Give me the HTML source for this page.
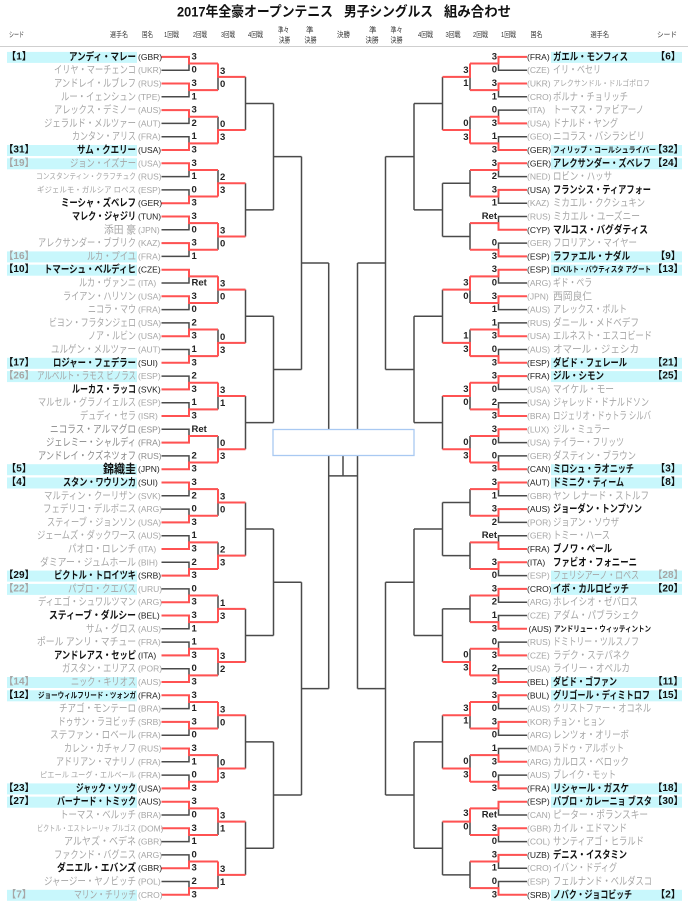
<!DOCTYPE html>
<html><head><meta charset="utf-8"><style>
body{margin:0;background:#fff}
svg{display:block}
text{dominant-baseline:central;font-family:"Liberation Sans","Noto Sans CJK JP",sans-serif}
.n{font-size:10.5px}
.sm{font-size:8px}
.w{fill:#111;font-weight:bold}
.g{fill:#a6a6a6}
.c{font-size:8.5px}
.cw{fill:#222}
.s{font-size:9.5px;font-weight:bold;fill:#222}
.sd{font-size:10px;font-weight:bold}
.h{font-size:7.5px;fill:#333}
.t{font-size:14px;font-weight:bold;fill:#111}
</style></head><body>
<svg width="688" height="914" viewBox="0 0 688 914" xmlns="http://www.w3.org/2000/svg">
<rect width="688" height="914" fill="#fff"/>
<!-- title -->
<text class="t" x="177" y="11.5" textLength="156" lengthAdjust="spacingAndGlyphs">2017年全豪オープンテニス</text>
<text class="t" x="344" y="11.5" textLength="89" lengthAdjust="spacingAndGlyphs">男子シングルス</text>
<text class="t" x="444" y="11.5" textLength="67" lengthAdjust="spacingAndGlyphs">組み合わせ</text>
<!-- header -->
<g class="h">
<text class="h" x="9" y="34.5" textLength="15" lengthAdjust="spacingAndGlyphs">シード</text>
<text class="h" x="110" y="34.5" textLength="18" lengthAdjust="spacingAndGlyphs">選手名</text>
<text class="h" x="142" y="34.5" textLength="11" lengthAdjust="spacingAndGlyphs">国名</text>
<text class="h" x="164" y="34.5" textLength="15" lengthAdjust="spacingAndGlyphs">1回戦</text>
<text class="h" x="193" y="34.5" textLength="14" lengthAdjust="spacingAndGlyphs">2回戦</text>
<text class="h" x="221" y="34.5" textLength="14" lengthAdjust="spacingAndGlyphs">3回戦</text>
<text class="h" x="248" y="34.5" textLength="15" lengthAdjust="spacingAndGlyphs">4回戦</text>
<text class="h" x="278" y="30" textLength="11" lengthAdjust="spacingAndGlyphs">準々</text>
<text class="h" x="279" y="40" textLength="11" lengthAdjust="spacingAndGlyphs">決勝</text>
<text class="h" x="306" y="30">準</text>
<text class="h" x="304.5" y="40" textLength="12" lengthAdjust="spacingAndGlyphs">決勝</text>
<text class="h" x="337" y="34.5" textLength="13" lengthAdjust="spacingAndGlyphs">決勝</text>
<text class="h" x="369" y="30">準</text>
<text class="h" x="365.5" y="40" textLength="13" lengthAdjust="spacingAndGlyphs">決勝</text>
<text class="h" x="390.5" y="30" textLength="12" lengthAdjust="spacingAndGlyphs">準々</text>
<text class="h" x="390.5" y="40" textLength="12" lengthAdjust="spacingAndGlyphs">決勝</text>
<text class="h" x="418" y="34.5" textLength="15" lengthAdjust="spacingAndGlyphs">4回戦</text>
<text class="h" x="445.5" y="34.5" textLength="15" lengthAdjust="spacingAndGlyphs">3回戦</text>
<text class="h" x="473" y="34.5" textLength="15" lengthAdjust="spacingAndGlyphs">2回戦</text>
<text class="h" x="501" y="34.5" textLength="15" lengthAdjust="spacingAndGlyphs">1回戦</text>
<text class="h" x="530.5" y="34.5" textLength="12" lengthAdjust="spacingAndGlyphs">国名</text>
<text class="h" x="590.5" y="34.5" textLength="18.5" lengthAdjust="spacingAndGlyphs">選手名</text>
<text class="h" x="657" y="34.5" textLength="20" lengthAdjust="spacingAndGlyphs">シード</text>
</g>
<line x1="0" y1="46.5" x2="688" y2="46.5" stroke="#cfcfcf" stroke-width="1"/>

<!-- seed bands -->
<g fill="#c8f7fc">
<rect x="7" y="51.9" width="130" height="11"/><rect x="7" y="145" width="130" height="11"/><rect x="7" y="158.3" width="130" height="11"/><rect x="7" y="251.4" width="130" height="11"/><rect x="7" y="264.7" width="130" height="11"/><rect x="7" y="357.8" width="130" height="11"/><rect x="7" y="371.1" width="130" height="11"/><rect x="7" y="464.2" width="130" height="11"/><rect x="7" y="477.5" width="130" height="11"/><rect x="7" y="570.6" width="130" height="11"/><rect x="7" y="583.9" width="130" height="11"/><rect x="7" y="677" width="130" height="11"/><rect x="7" y="690.3" width="130" height="11"/><rect x="7" y="783.4" width="130" height="11"/><rect x="7" y="796.7" width="130" height="11"/><rect x="7" y="889.8" width="130" height="11"/>
<rect x="551" y="51.9" width="131" height="11"/><rect x="551" y="145" width="131" height="11"/><rect x="551" y="158.3" width="131" height="11"/><rect x="551" y="251.4" width="131" height="11"/><rect x="551" y="264.7" width="131" height="11"/><rect x="551" y="357.8" width="131" height="11"/><rect x="551" y="371.1" width="131" height="11"/><rect x="551" y="464.2" width="131" height="11"/><rect x="551" y="477.5" width="131" height="11"/><rect x="551" y="570.6" width="131" height="11"/><rect x="551" y="583.9" width="131" height="11"/><rect x="551" y="677" width="131" height="11"/><rect x="551" y="690.3" width="131" height="11"/><rect x="551" y="783.4" width="131" height="11"/><rect x="551" y="796.7" width="131" height="11"/><rect x="551" y="889.8" width="131" height="11"/>
</g>

<!-- black bracket lines -->
<path fill="none" stroke="#4a4a4a" stroke-width="1.5" d="
M161.5 56.9H189V70.2H161.5M189 63.55H218
M161.5 83.5H189V96.8H161.5M189 90.15H218
M161.5 110.1H189V123.4H161.5M189 116.75H218
M161.5 136.7H189V150H161.5M189 143.35H218
M161.5 163.3H189V176.6H161.5M189 169.95H218
M161.5 189.9H189V203.2H161.5M189 196.55H218
M161.5 216.5H189V229.8H161.5M189 223.15H218
M161.5 243.1H189V256.4H161.5M189 249.75H218
M161.5 269.7H189V283H161.5M189 276.35H218
M161.5 296.3H189V309.6H161.5M189 302.95H218
M161.5 322.9H189V336.2H161.5M189 329.55H218
M161.5 349.5H189V362.8H161.5M189 356.15H218
M161.5 376.1H189V389.4H161.5M189 382.75H218
M161.5 402.7H189V416H161.5M189 409.35H218
M161.5 429.3H189V442.6H161.5M189 435.95H218
M161.5 455.9H189V469.2H161.5M189 462.55H218
M161.5 482.5H189V495.8H161.5M189 489.15H218
M161.5 509.1H189V522.4H161.5M189 515.75H218
M161.5 535.7H189V549H161.5M189 542.35H218
M161.5 562.3H189V575.6H161.5M189 568.95H218
M161.5 588.9H189V602.2H161.5M189 595.55H218
M161.5 615.5H189V628.8H161.5M189 622.15H218
M161.5 642.1H189V655.4H161.5M189 648.75H218
M161.5 668.7H189V682H161.5M189 675.35H218
M161.5 695.3H189V708.6H161.5M189 701.95H218
M161.5 721.9H189V735.2H161.5M189 728.55H218
M161.5 748.5H189V761.8H161.5M189 755.15H218
M161.5 775.1H189V788.4H161.5M189 781.75H218
M161.5 801.7H189V815H161.5M189 808.35H218
M161.5 828.3H189V841.6H161.5M189 834.95H218
M161.5 854.9H189V868.2H161.5M189 861.55H218
M161.5 881.5H189V894.8H161.5M189 888.15H218
M218 63.55V90.15M218 76.85H245.5
M218 116.75V143.35M218 130.05H245.5
M218 169.95V196.55M218 183.25H245.5
M218 223.15V249.75M218 236.45H245.5
M218 276.35V302.95M218 289.65H245.5
M218 329.55V356.15M218 342.85H245.5
M218 382.75V409.35M218 396.05H245.5
M218 435.95V462.55M218 449.25H245.5
M218 489.15V515.75M218 502.45H245.5
M218 542.35V568.95M218 555.65H245.5
M218 595.55V622.15M218 608.85H245.5
M218 648.75V675.35M218 662.05H245.5
M218 701.95V728.55M218 715.25H245.5
M218 755.15V781.75M218 768.45H245.5
M218 808.35V834.95M218 821.65H245.5
M218 861.55V888.15M218 874.85H245.5
M245.5 76.85V130.05M245.5 103.45H273.5
M245.5 183.25V236.45M245.5 209.85H273.5
M245.5 289.65V342.85M245.5 316.25H273.5
M245.5 396.05V449.25M245.5 422.65H273.5
M245.5 502.45V555.65M245.5 529.05H273.5
M245.5 608.85V662.05M245.5 635.45H273.5
M245.5 715.25V768.45M245.5 741.85H273.5
M245.5 821.65V874.85M245.5 848.25H273.5
M273.5 103.45V209.85M273.5 156.65H301.5
M273.5 316.25V422.65M273.5 369.45H301.5
M273.5 529.05V635.45M273.5 582.25H301.5
M273.5 741.85V848.25M273.5 795.05H301.5
M301.5 156.65V369.45M301.5 263.05H328.7
M301.5 582.25V795.05M301.5 688.65H328.7
M328.7 263.05V688.65M328.7 475.85H357.5M343 475.85V455M357.5 263.05V688.65
M385.5 156.65V369.45M385.5 263.05H357.5
M385.5 582.25V795.05M385.5 688.65H357.5
M414 103.45V209.85M414 156.65H385.5
M414 316.25V422.65M414 369.45H385.5
M414 529.05V635.45M414 582.25H385.5
M414 741.85V848.25M414 795.05H385.5
M442.5 76.85V130.05M442.5 103.45H414
M442.5 183.25V236.45M442.5 209.85H414
M442.5 289.65V342.85M442.5 316.25H414
M442.5 396.05V449.25M442.5 422.65H414
M442.5 502.45V555.65M442.5 529.05H414
M442.5 608.85V662.05M442.5 635.45H414
M442.5 715.25V768.45M442.5 741.85H414
M442.5 821.65V874.85M442.5 848.25H414
M470 63.55V90.15M470 76.85H442.5
M470 116.75V143.35M470 130.05H442.5
M470 169.95V196.55M470 183.25H442.5
M470 223.15V249.75M470 236.45H442.5
M470 276.35V302.95M470 289.65H442.5
M470 329.55V356.15M470 342.85H442.5
M470 382.75V409.35M470 396.05H442.5
M470 435.95V462.55M470 449.25H442.5
M470 489.15V515.75M470 502.45H442.5
M470 542.35V568.95M470 555.65H442.5
M470 595.55V622.15M470 608.85H442.5
M470 648.75V675.35M470 662.05H442.5
M470 701.95V728.55M470 715.25H442.5
M470 755.15V781.75M470 768.45H442.5
M470 808.35V834.95M470 821.65H442.5
M470 861.55V888.15M470 874.85H442.5
M527 56.9H498.5V70.2H527M498.5 63.55H470
M527 83.5H498.5V96.8H527M498.5 90.15H470
M527 110.1H498.5V123.4H527M498.5 116.75H470
M527 136.7H498.5V150H527M498.5 143.35H470
M527 163.3H498.5V176.6H527M498.5 169.95H470
M527 189.9H498.5V203.2H527M498.5 196.55H470
M527 216.5H498.5V229.8H527M498.5 223.15H470
M527 243.1H498.5V256.4H527M498.5 249.75H470
M527 269.7H498.5V283H527M498.5 276.35H470
M527 296.3H498.5V309.6H527M498.5 302.95H470
M527 322.9H498.5V336.2H527M498.5 329.55H470
M527 349.5H498.5V362.8H527M498.5 356.15H470
M527 376.1H498.5V389.4H527M498.5 382.75H470
M527 402.7H498.5V416H527M498.5 409.35H470
M527 429.3H498.5V442.6H527M498.5 435.95H470
M527 455.9H498.5V469.2H527M498.5 462.55H470
M527 482.5H498.5V495.8H527M498.5 489.15H470
M527 509.1H498.5V522.4H527M498.5 515.75H470
M527 535.7H498.5V549H527M498.5 542.35H470
M527 562.3H498.5V575.6H527M498.5 568.95H470
M527 588.9H498.5V602.2H527M498.5 595.55H470
M527 615.5H498.5V628.8H527M498.5 622.15H470
M527 642.1H498.5V655.4H527M498.5 648.75H470
M527 668.7H498.5V682H527M498.5 675.35H470
M527 695.3H498.5V708.6H527M498.5 701.95H470
M527 721.9H498.5V735.2H527M498.5 728.55H470
M527 748.5H498.5V761.8H527M498.5 755.15H470
M527 775.1H498.5V788.4H527M498.5 781.75H470
M527 801.7H498.5V815H527M498.5 808.35H470
M527 828.3H498.5V841.6H527M498.5 834.95H470
M527 854.9H498.5V868.2H527M498.5 861.55H470
M527 881.5H498.5V894.8H527M498.5 888.15H470"/>

<!-- red winner paths -->
<path fill="none" stroke="#ff5252" stroke-width="2" d="
M161.5 56.9H189V63.55H218M161.5 83.5H189V90.15H218M161.5 110.1H189V116.75H218M161.5 150H189V143.35H218
M161.5 163.3H189V169.95H218M161.5 203.2H189V196.55H218M161.5 216.5H189V223.15H218M161.5 243.1H189V249.75H218
M161.5 269.7H189V276.35H218M161.5 296.3H189V302.95H218M161.5 336.2H189V329.55H218M161.5 362.8H189V356.15H218
M161.5 389.4H189V382.75H218M161.5 416H189V409.35H218M161.5 442.6H189V435.95H218M161.5 469.2H189V462.55H218
M161.5 482.5H189V489.15H218M161.5 522.4H189V515.75H218M161.5 549H189V542.35H218M161.5 575.6H189V568.95H218
M161.5 602.2H189V595.55H218M161.5 615.5H189V622.15H218M161.5 655.4H189V648.75H218M161.5 682H189V675.35H218
M161.5 695.3H189V701.95H218M161.5 721.9H189V728.55H218M161.5 748.5H189V755.15H218M161.5 788.4H189V781.75H218
M161.5 801.7H189V808.35H218M161.5 828.3H189V834.95H218M161.5 868.2H189V861.55H218M161.5 894.8H189V888.15H218
M218 63.55V76.85H245.5M218 143.35V130.05H245.5M218 196.55V183.25H245.5M218 223.15V236.45H245.5
M218 276.35V289.65H245.5M218 356.15V342.85H245.5M218 382.75V396.05H245.5M218 462.55V449.25H245.5
M218 489.15V502.45H245.5M218 568.95V555.65H245.5M218 622.15V608.85H245.5M218 648.75V662.05H245.5
M218 701.95V715.25H245.5M218 781.75V768.45H245.5M218 808.35V821.65H245.5M218 861.55V874.85H245.5
M527 56.9H498.5V63.55H470M527 83.5H498.5V90.15H470M527 123.4H498.5V116.75H470M527 150H498.5V143.35H470
M527 163.3H498.5V169.95H470M527 189.9H498.5V196.55H470M527 229.8H498.5V223.15H470M527 256.4H498.5V249.75H470
M527 269.7H498.5V276.35H470M527 296.3H498.5V302.95H470M527 336.2H498.5V329.55H470M527 362.8H498.5V356.15H470
M527 376.1H498.5V382.75H470M527 416H498.5V409.35H470M527 429.3H498.5V435.95H470M527 469.2H498.5V462.55H470
M527 482.5H498.5V489.15H470M527 509.1H498.5V515.75H470M527 549H498.5V542.35H470M527 562.3H498.5V568.95H470
M527 588.9H498.5V595.55H470M527 628.8H498.5V622.15H470M527 655.4H498.5V648.75H470M527 682H498.5V675.35H470
M527 695.3H498.5V701.95H470M527 721.9H498.5V728.55H470M527 761.8H498.5V755.15H470M527 788.4H498.5V781.75H470
M527 801.7H498.5V808.35H470M527 828.3H498.5V834.95H470M527 854.9H498.5V861.55H470M527 894.8H498.5V888.15H470
M470 63.55V76.85H442.5M470 143.35V130.05H442.5M470 276.35V289.65H442.5M470 356.15V342.85H442.5
M470 382.75V396.05H442.5M470 462.55V449.25H442.5M470 675.35V662.05H442.5M470 701.95V715.25H442.5
M470 781.75V768.45H442.5M470 808.35V821.65H442.5"/>

<!-- center box -->
<rect x="273" y="429.5" width="141" height="26" fill="#fff" stroke="#a9c9f2" stroke-width="1.3"/>

<!-- left seeds -->
<g text-anchor="middle">
<text class="sd w" x="19" y="56.9">【1】</text>
<text class="sd w" x="19" y="150">【31】</text>
<text class="sd g" x="19" y="163.3">【19】</text>
<text class="sd g" x="19" y="256.4">【16】</text>
<text class="sd w" x="19" y="269.7">【10】</text>
<text class="sd w" x="19" y="362.8">【17】</text>
<text class="sd g" x="19" y="376.1">【26】</text>
<text class="sd w" x="19" y="469.2">【5】</text>
<text class="sd w" x="19" y="482.5">【4】</text>
<text class="sd w" x="19" y="575.6">【29】</text>
<text class="sd g" x="19" y="588.9">【22】</text>
<text class="sd g" x="19" y="682">【14】</text>
<text class="sd w" x="19" y="695.3">【12】</text>
<text class="sd w" x="19" y="788.4">【23】</text>
<text class="sd w" x="19" y="801.7">【27】</text>
<text class="sd g" x="19" y="894.8">【7】</text>
<text class="sd w" x="668" y="56.9">【6】</text>
<text class="sd w" x="668" y="150">【32】</text>
<text class="sd w" x="668" y="163.3">【24】</text>
<text class="sd w" x="668" y="256.4">【9】</text>
<text class="sd w" x="668" y="269.7">【13】</text>
<text class="sd w" x="668" y="362.8">【21】</text>
<text class="sd w" x="668" y="376.1">【25】</text>
<text class="sd w" x="668" y="469.2">【3】</text>
<text class="sd w" x="668" y="482.5">【8】</text>
<text class="sd g" x="668" y="575.6">【28】</text>
<text class="sd w" x="668" y="588.9">【20】</text>
<text class="sd w" x="668" y="682">【11】</text>
<text class="sd w" x="668" y="695.3">【15】</text>
<text class="sd w" x="668" y="788.4">【18】</text>
<text class="sd w" x="668" y="801.7">【30】</text>
<text class="sd w" x="668" y="894.8">【2】</text>
</g>

<!-- left names -->
<g text-anchor="end">
<text class="n w" x="136" y="56.9" textLength="67" lengthAdjust="spacingAndGlyphs">アンディ・マレー</text>
<text class="n g" x="136" y="70.2" textLength="82" lengthAdjust="spacingAndGlyphs">イリヤ・マーチェンコ</text>
<text class="n g" x="136" y="83.5" textLength="82" lengthAdjust="spacingAndGlyphs">アンドレイ・ルブレフ</text>
<text class="n g" x="136" y="96.8" textLength="75" lengthAdjust="spacingAndGlyphs">ルー・イェンシュン</text>
<text class="n g" x="136" y="110.1" textLength="82" lengthAdjust="spacingAndGlyphs">アレックス・デミノー</text>
<text class="n g" x="136" y="123.4" textLength="92" lengthAdjust="spacingAndGlyphs">ジェラルド・メルツァー</text>
<text class="n g" x="136" y="136.7" textLength="64" lengthAdjust="spacingAndGlyphs">カンタン・アリス</text>
<text class="n w" x="136" y="150" textLength="59" lengthAdjust="spacingAndGlyphs">サム・クエリー</text>
<text class="n g" x="136" y="163.3" textLength="66" lengthAdjust="spacingAndGlyphs">ジョン・イズナー</text>
<text class="sm g" x="136" y="176.6" textLength="100" lengthAdjust="spacingAndGlyphs">コンスタンティン・クラフチュク</text>
<text class="sm g" x="136" y="189.9" textLength="99" lengthAdjust="spacingAndGlyphs">ギジェルモ・ガルシア ロペス</text>
<text class="n w" x="136" y="203.2" textLength="75" lengthAdjust="spacingAndGlyphs">ミーシャ・ズベレフ</text>
<text class="n w" x="136" y="216.5" textLength="64" lengthAdjust="spacingAndGlyphs">マレク・ジャジリ</text>
<text class="n g" x="136" y="229.8" textLength="32" lengthAdjust="spacingAndGlyphs">添田 豪</text>
<text class="n g" x="136" y="243.1" textLength="98" lengthAdjust="spacingAndGlyphs">アレクサンダー・ブブリク</text>
<text class="n g" x="136" y="256.4" textLength="49" lengthAdjust="spacingAndGlyphs">ルカ・プイユ</text>
<text class="n w" x="136" y="269.7" textLength="92" lengthAdjust="spacingAndGlyphs">トマーシュ・ベルディヒ</text>
<text class="n g" x="136" y="283" textLength="57" lengthAdjust="spacingAndGlyphs">ルカ・ヴァンニ</text>
<text class="n g" x="136" y="296.3" textLength="73" lengthAdjust="spacingAndGlyphs">ライアン・ハリソン</text>
<text class="n g" x="136" y="309.6" textLength="48" lengthAdjust="spacingAndGlyphs">ニコラ・マウ</text>
<text class="n g" x="136" y="322.9" textLength="87" lengthAdjust="spacingAndGlyphs">ビヨン・フラタンジェロ</text>
<text class="n g" x="136" y="336.2" textLength="48" lengthAdjust="spacingAndGlyphs">ノア・ルビン</text>
<text class="n g" x="136" y="349.5" textLength="85" lengthAdjust="spacingAndGlyphs">ユルゲン・メルツァー</text>
<text class="n w" x="136" y="362.8" textLength="83" lengthAdjust="spacingAndGlyphs">ロジャー・フェデラー</text>
<text class="n g" x="136" y="376.1" textLength="99" lengthAdjust="spacingAndGlyphs">アルベルト・ラモス ビノラス</text>
<text class="n w" x="136" y="389.4" textLength="64" lengthAdjust="spacingAndGlyphs">ルーカス・ラッコ</text>
<text class="n g" x="136" y="402.7" textLength="98" lengthAdjust="spacingAndGlyphs">マルセル・グラノイェルス</text>
<text class="n g" x="136" y="416" textLength="56" lengthAdjust="spacingAndGlyphs">デュディ・セラ</text>
<text class="n g" x="136" y="429.3" textLength="86" lengthAdjust="spacingAndGlyphs" style="fill:#8a8a8a">ニコラス・アルマグロ</text>
<text class="n g" x="136" y="442.6" textLength="90" lengthAdjust="spacingAndGlyphs" style="fill:#8a8a8a">ジェレミー・シャルディ</text>
<text class="n g" x="136" y="455.9" textLength="98" lengthAdjust="spacingAndGlyphs" style="fill:#8a8a8a">アンドレイ・クズネツォフ</text>
<text class="w" x="136" y="469.2" textLength="33" lengthAdjust="spacingAndGlyphs" style="font-size:12px">錦織圭</text>
<text class="n w" x="136" y="482.5" textLength="73" lengthAdjust="spacingAndGlyphs">スタン・ワウリンカ</text>
<text class="n g" x="136" y="495.8" textLength="92" lengthAdjust="spacingAndGlyphs">マルティン・クーリザン</text>
<text class="n g" x="136" y="509.1" textLength="93" lengthAdjust="spacingAndGlyphs">フェデリコ・デルボニス</text>
<text class="n g" x="136" y="522.4" textLength="89" lengthAdjust="spacingAndGlyphs">スティーブ・ジョンソン</text>
<text class="n g" x="136" y="535.7" textLength="99" lengthAdjust="spacingAndGlyphs">ジェームズ・ダックワース</text>
<text class="n g" x="136" y="549" textLength="68" lengthAdjust="spacingAndGlyphs">パオロ・ロレンチ</text>
<text class="n g" x="136" y="562.3" textLength="96" lengthAdjust="spacingAndGlyphs">ダミアー・ジュムホール</text>
<text class="n w" x="136" y="575.6" textLength="82" lengthAdjust="spacingAndGlyphs">ビクトル・トロイツキ</text>
<text class="n g" x="136" y="588.9" textLength="68" lengthAdjust="spacingAndGlyphs">パブロ・クエバス</text>
<text class="n g" x="136" y="602.2" textLength="98" lengthAdjust="spacingAndGlyphs">ディエゴ・シュワルツマン</text>
<text class="n w" x="136" y="615.5" textLength="87" lengthAdjust="spacingAndGlyphs">スティーブ・ダルシー</text>
<text class="n g" x="136" y="628.8" textLength="50" lengthAdjust="spacingAndGlyphs">サム・グロス</text>
<text class="n g" x="136" y="642.1" textLength="99" lengthAdjust="spacingAndGlyphs">ポール アンリ・マチュー</text>
<text class="n w" x="136" y="655.4" textLength="82" lengthAdjust="spacingAndGlyphs">アンドレアス・セッピ</text>
<text class="n g" x="136" y="668.7" textLength="74" lengthAdjust="spacingAndGlyphs">ガスタン・エリアス</text>
<text class="n g" x="136" y="682" textLength="65" lengthAdjust="spacingAndGlyphs">ニック・キリオス</text>
<text class="sm w" x="136" y="695.3" textLength="98" lengthAdjust="spacingAndGlyphs">ジョーウィルフリード・ツォンガ</text>
<text class="n g" x="136" y="708.6" textLength="77" lengthAdjust="spacingAndGlyphs">チアゴ・モンテーロ</text>
<text class="n g" x="136" y="721.9" textLength="78" lengthAdjust="spacingAndGlyphs">ドゥサン・ラヨビッチ</text>
<text class="n g" x="136" y="735.2" textLength="86" lengthAdjust="spacingAndGlyphs">ステファン・ロベール</text>
<text class="n g" x="136" y="748.5" textLength="72" lengthAdjust="spacingAndGlyphs">カレン・カチャノフ</text>
<text class="n g" x="136" y="761.8" textLength="80" lengthAdjust="spacingAndGlyphs">アドリアン・マナリノ</text>
<text class="sm g" x="136" y="775.1" textLength="96" lengthAdjust="spacingAndGlyphs">ピエール ユーグ・エルベール</text>
<text class="n w" x="136" y="788.4" textLength="60" lengthAdjust="spacingAndGlyphs">ジャック・ソック</text>
<text class="n w" x="136" y="801.7" textLength="79" lengthAdjust="spacingAndGlyphs">バーナード・トミック</text>
<text class="n g" x="136" y="815" textLength="76" lengthAdjust="spacingAndGlyphs">トーマス・ベルッチ</text>
<text class="sm g" x="136" y="828.3" textLength="99" lengthAdjust="spacingAndGlyphs">ビクトル・エストレーリャ ブルゴス</text>
<text class="n g" x="136" y="841.6" textLength="72" lengthAdjust="spacingAndGlyphs">アルヤズ・ベデネ</text>
<text class="n g" x="136" y="854.9" textLength="82" lengthAdjust="spacingAndGlyphs">ファクンド・バグニス</text>
<text class="n w" x="136" y="868.2" textLength="79" lengthAdjust="spacingAndGlyphs">ダニエル・エバンズ</text>
<text class="n g" x="136" y="881.5" textLength="92" lengthAdjust="spacingAndGlyphs">ジャージー・ヤノビッチ</text>
<text class="n g" x="136" y="894.8" textLength="62" lengthAdjust="spacingAndGlyphs">マリン・チリッチ</text>
</g>

<!-- left country codes -->
<g>
<text class="c cw" x="138" y="56.9">(GBR)</text>
<text class="c g" x="138" y="70.2">(UKR)</text>
<text class="c g" x="138" y="83.5">(RUS)</text>
<text class="c g" x="138" y="96.8">(TPE)</text>
<text class="c g" x="138" y="110.1">(AUS)</text>
<text class="c g" x="138" y="123.4">(AUT)</text>
<text class="c g" x="138" y="136.7">(FRA)</text>
<text class="c cw" x="138" y="150">(USA)</text>
<text class="c g" x="138" y="163.3">(USA)</text>
<text class="c g" x="138" y="176.6">(RUS)</text>
<text class="c g" x="138" y="189.9">(ESP)</text>
<text class="c cw" x="138" y="203.2">(GER)</text>
<text class="c cw" x="138" y="216.5">(TUN)</text>
<text class="c g" x="138" y="229.8">(JPN)</text>
<text class="c g" x="138" y="243.1">(KAZ)</text>
<text class="c g" x="138" y="256.4">(FRA)</text>
<text class="c cw" x="138" y="269.7">(CZE)</text>
<text class="c g" x="138" y="283">(ITA)</text>
<text class="c g" x="138" y="296.3">(USA)</text>
<text class="c g" x="138" y="309.6">(FRA)</text>
<text class="c g" x="138" y="322.9">(USA)</text>
<text class="c g" x="138" y="336.2">(USA)</text>
<text class="c g" x="138" y="349.5">(AUT)</text>
<text class="c cw" x="138" y="362.8">(SUI)</text>
<text class="c g" x="138" y="376.1">(ESP)</text>
<text class="c cw" x="138" y="389.4">(SVK)</text>
<text class="c g" x="138" y="402.7">(ESP)</text>
<text class="c g" x="138" y="416">(ISR)</text>
<text class="c g" x="138" y="429.3" style="fill:#8a8a8a">(ESP)</text>
<text class="c g" x="138" y="442.6" style="fill:#8a8a8a">(FRA)</text>
<text class="c g" x="138" y="455.9" style="fill:#8a8a8a">(RUS)</text>
<text class="c cw" x="138" y="469.2">(JPN)</text>
<text class="c cw" x="138" y="482.5">(SUI)</text>
<text class="c g" x="138" y="495.8">(SVK)</text>
<text class="c g" x="138" y="509.1">(ARG)</text>
<text class="c g" x="138" y="522.4">(USA)</text>
<text class="c g" x="138" y="535.7">(AUS)</text>
<text class="c g" x="138" y="549">(ITA)</text>
<text class="c g" x="138" y="562.3">(BIH)</text>
<text class="c cw" x="138" y="575.6">(SRB)</text>
<text class="c g" x="138" y="588.9">(URU)</text>
<text class="c g" x="138" y="602.2">(ARG)</text>
<text class="c cw" x="138" y="615.5">(BEL)</text>
<text class="c g" x="138" y="628.8">(AUS)</text>
<text class="c g" x="138" y="642.1">(FRA)</text>
<text class="c cw" x="138" y="655.4">(ITA)</text>
<text class="c g" x="138" y="668.7">(POR)</text>
<text class="c g" x="138" y="682">(AUS)</text>
<text class="c cw" x="138" y="695.3">(FRA)</text>
<text class="c g" x="138" y="708.6">(BRA)</text>
<text class="c g" x="138" y="721.9">(SRB)</text>
<text class="c g" x="138" y="735.2">(FRA)</text>
<text class="c g" x="138" y="748.5">(RUS)</text>
<text class="c g" x="138" y="761.8">(FRA)</text>
<text class="c g" x="138" y="775.1">(FRA)</text>
<text class="c cw" x="138" y="788.4">(USA)</text>
<text class="c cw" x="138" y="801.7">(AUS)</text>
<text class="c g" x="138" y="815">(BRA)</text>
<text class="c g" x="138" y="828.3">(DOM)</text>
<text class="c g" x="138" y="841.6">(GBR)</text>
<text class="c g" x="138" y="854.9">(ARG)</text>
<text class="c cw" x="138" y="868.2">(GBR)</text>
<text class="c g" x="138" y="881.5">(POL)</text>
<text class="c g" x="138" y="894.8">(CRO)</text>
</g>

<!-- right country codes -->
<g>
<text class="c cw" x="527" y="56.9">(FRA)</text>
<text class="c g" x="527" y="70.2">(CZE)</text>
<text class="c g" x="527" y="83.5">(UKR)</text>
<text class="c g" x="527" y="96.8">(CRO)</text>
<text class="c g" x="527" y="110.1">(ITA)</text>
<text class="c g" x="527" y="123.4">(USA)</text>
<text class="c g" x="527" y="136.7">(GEO)</text>
<text class="c cw" x="527" y="150">(GER)</text>
<text class="c cw" x="527" y="163.3">(GER)</text>
<text class="c g" x="527" y="176.6">(NED)</text>
<text class="c cw" x="527" y="189.9">(USA)</text>
<text class="c g" x="527" y="203.2">(KAZ)</text>
<text class="c g" x="527" y="216.5">(RUS)</text>
<text class="c cw" x="527" y="229.8">(CYP)</text>
<text class="c g" x="527" y="243.1">(GER)</text>
<text class="c cw" x="527" y="256.4">(ESP)</text>
<text class="c cw" x="527" y="269.7">(ESP)</text>
<text class="c g" x="527" y="283">(ARG)</text>
<text class="c g" x="527" y="296.3">(JPN)</text>
<text class="c g" x="527" y="309.6">(AUS)</text>
<text class="c g" x="527" y="322.9">(RUS)</text>
<text class="c g" x="527" y="336.2">(USA)</text>
<text class="c g" x="527" y="349.5">(AUS)</text>
<text class="c cw" x="527" y="362.8">(ESP)</text>
<text class="c cw" x="527" y="376.1">(FRA)</text>
<text class="c g" x="527" y="389.4">(USA)</text>
<text class="c g" x="527" y="402.7">(USA)</text>
<text class="c g" x="527" y="416">(BRA)</text>
<text class="c g" x="527" y="429.3">(LUX)</text>
<text class="c g" x="527" y="442.6">(USA)</text>
<text class="c g" x="527" y="455.9">(GER)</text>
<text class="c cw" x="527" y="469.2">(CAN)</text>
<text class="c cw" x="527" y="482.5">(AUT)</text>
<text class="c g" x="527" y="495.8">(GBR)</text>
<text class="c cw" x="527" y="509.1">(AUS)</text>
<text class="c g" x="527" y="522.4">(POR)</text>
<text class="c g" x="527" y="535.7">(GER)</text>
<text class="c cw" x="527" y="549">(FRA)</text>
<text class="c cw" x="527" y="562.3">(ITA)</text>
<text class="c g" x="527" y="575.6">(ESP)</text>
<text class="c cw" x="527" y="588.9">(CRO)</text>
<text class="c g" x="527" y="602.2">(ARG)</text>
<text class="c g" x="527" y="615.5">(CZE)</text>
<text class="c cw" x="528.5" y="628.8">(AUS)</text>
<text class="c g" x="527" y="642.1">(RUS)</text>
<text class="c g" x="527" y="655.4">(CZE)</text>
<text class="c g" x="527" y="668.7">(USA)</text>
<text class="c cw" x="527" y="682">(BEL)</text>
<text class="c cw" x="527" y="695.3">(BUL)</text>
<text class="c g" x="527" y="708.6">(AUS)</text>
<text class="c g" x="527" y="721.9">(KOR)</text>
<text class="c g" x="527" y="735.2">(ARG)</text>
<text class="c g" x="527" y="748.5">(MDA)</text>
<text class="c g" x="527" y="761.8">(ARG)</text>
<text class="c g" x="527" y="775.1">(AUS)</text>
<text class="c cw" x="527" y="788.4">(FRA)</text>
<text class="c cw" x="527" y="801.7">(ESP)</text>
<text class="c g" x="527" y="815">(CAN)</text>
<text class="c g" x="527" y="828.3">(GBR)</text>
<text class="c g" x="527" y="841.6">(COL)</text>
<text class="c cw" x="527" y="854.9">(UZB)</text>
<text class="c g" x="527" y="868.2">(CRO)</text>
<text class="c g" x="527" y="881.5">(ESP)</text>
<text class="c cw" x="527" y="894.8">(SRB)</text>
</g>

<!-- right names -->
<g>
<text class="n w" x="553" y="56.9" textLength="75" lengthAdjust="spacingAndGlyphs">ガエル・モンフィス</text>
<text class="n g" x="553" y="70.2" textLength="48" lengthAdjust="spacingAndGlyphs">イリ・ベセリ</text>
<text class="sm g" x="553" y="83.5" textLength="97" lengthAdjust="spacingAndGlyphs">アレクサンドル・ドルゴポロフ</text>
<text class="n g" x="553" y="96.8" textLength="75" lengthAdjust="spacingAndGlyphs">ボルナ・チョリッチ</text>
<text class="n g" x="553" y="110.1" textLength="91" lengthAdjust="spacingAndGlyphs">トーマス・ファビアーノ</text>
<text class="n g" x="553" y="123.4" textLength="65" lengthAdjust="spacingAndGlyphs">ドナルド・ヤング</text>
<text class="n g" x="553" y="136.7" textLength="92" lengthAdjust="spacingAndGlyphs">ニコラス・バシラシビリ</text>
<text class="sm w" x="553" y="150" textLength="103" lengthAdjust="spacingAndGlyphs">フィリップ・コールシュライバー</text>
<text class="n w" x="553" y="163.3" textLength="98" lengthAdjust="spacingAndGlyphs">アレクサンダー・ズベレフ</text>
<text class="n g" x="553" y="176.6" textLength="59" lengthAdjust="spacingAndGlyphs">ロビン・ハッサ</text>
<text class="n w" x="553" y="189.9" textLength="98" lengthAdjust="spacingAndGlyphs">フランシス・ティアフォー</text>
<text class="n g" x="553" y="203.2" textLength="92" lengthAdjust="spacingAndGlyphs">ミカエル・ククシュキン</text>
<text class="n g" x="553" y="216.5" textLength="87" lengthAdjust="spacingAndGlyphs">ミカエル・ユーズニー</text>
<text class="n w" x="553" y="229.8" textLength="95" lengthAdjust="spacingAndGlyphs">マルコス・バグダティス</text>
<text class="n g" x="553" y="243.1" textLength="84" lengthAdjust="spacingAndGlyphs">フロリアン・マイヤー</text>
<text class="n w" x="553" y="256.4" textLength="77" lengthAdjust="spacingAndGlyphs">ラファエル・ナダル</text>
<text class="sm w" x="553" y="269.7" textLength="98" lengthAdjust="spacingAndGlyphs">ロベルト・バウティスタ アグート</text>
<text class="n g" x="553" y="283" textLength="39" lengthAdjust="spacingAndGlyphs">ギド・ペラ</text>
<text class="n g" x="553" y="296.3" textLength="39" lengthAdjust="spacingAndGlyphs">西岡良仁</text>
<text class="n g" x="553" y="309.6" textLength="74" lengthAdjust="spacingAndGlyphs">アレックス・ボルト</text>
<text class="n g" x="553" y="322.9" textLength="86" lengthAdjust="spacingAndGlyphs">ダニール・メドベデフ</text>
<text class="n g" x="553" y="336.2" textLength="99" lengthAdjust="spacingAndGlyphs">エルネスト・エスコビード</text>
<text class="n g" x="553" y="349.5" textLength="86" lengthAdjust="spacingAndGlyphs">オマール・ジェシカ</text>
<text class="n w" x="553" y="362.8" textLength="74" lengthAdjust="spacingAndGlyphs">ダビド・フェレール</text>
<text class="n w" x="553" y="376.1" textLength="51" lengthAdjust="spacingAndGlyphs">ジル・シモン</text>
<text class="n g" x="553" y="389.4" textLength="61" lengthAdjust="spacingAndGlyphs">マイケル・モー</text>
<text class="n g" x="553" y="402.7" textLength="96" lengthAdjust="spacingAndGlyphs">ジャレッド・ドナルドソン</text>
<text class="n g" x="553" y="416" textLength="98" lengthAdjust="spacingAndGlyphs">ロジェリオ・ドゥトラ シルバ</text>
<text class="n g" x="553" y="429.3" textLength="57" lengthAdjust="spacingAndGlyphs">ジル・ミュラー</text>
<text class="n g" x="553" y="442.6" textLength="71" lengthAdjust="spacingAndGlyphs">テイラー・フリッツ</text>
<text class="n g" x="553" y="455.9" textLength="83" lengthAdjust="spacingAndGlyphs">ダスティン・ブラウン</text>
<text class="n w" x="553" y="469.2" textLength="81" lengthAdjust="spacingAndGlyphs">ミロシュ・ラオニッチ</text>
<text class="n w" x="553" y="482.5" textLength="71" lengthAdjust="spacingAndGlyphs">ドミニク・ティーム</text>
<text class="n g" x="553" y="495.8" textLength="96" lengthAdjust="spacingAndGlyphs">ヤン レナード・ストルフ</text>
<text class="n w" x="553" y="509.1" textLength="89" lengthAdjust="spacingAndGlyphs">ジョーダン・トンプソン</text>
<text class="n g" x="553" y="522.4" textLength="66" lengthAdjust="spacingAndGlyphs">ジョアン・ソウザ</text>
<text class="n g" x="553" y="535.7" textLength="57" lengthAdjust="spacingAndGlyphs">トミー・ハース</text>
<text class="n w" x="553" y="549" textLength="59" lengthAdjust="spacingAndGlyphs">ブノワ・ペール</text>
<text class="n w" x="553" y="562.3" textLength="84" lengthAdjust="spacingAndGlyphs">ファビオ・フォニーニ</text>
<text class="n g" x="553" y="575.6" textLength="86" lengthAdjust="spacingAndGlyphs">フェリシアーノ・ロペス</text>
<text class="n w" x="553" y="588.9" textLength="76" lengthAdjust="spacingAndGlyphs">イボ・カルロビッチ</text>
<text class="n g" x="553" y="602.2" textLength="85" lengthAdjust="spacingAndGlyphs">ホレイシオ・ゼバロス</text>
<text class="n g" x="553" y="615.5" textLength="86" lengthAdjust="spacingAndGlyphs">アダム・パブラシェク</text>
<text class="sm w" x="554" y="628.8" textLength="97" lengthAdjust="spacingAndGlyphs">アンドリュー・ウィッティントン</text>
<text class="n g" x="553" y="642.1" textLength="86" lengthAdjust="spacingAndGlyphs">ドミトリー・ツルスノフ</text>
<text class="n g" x="553" y="655.4" textLength="77" lengthAdjust="spacingAndGlyphs">ラデク・ステパネク</text>
<text class="n g" x="553" y="668.7" textLength="77" lengthAdjust="spacingAndGlyphs">ライリー・オペルカ</text>
<text class="n w" x="553" y="682" textLength="64" lengthAdjust="spacingAndGlyphs">ダビド・ゴファン</text>
<text class="n w" x="553" y="695.3" textLength="97" lengthAdjust="spacingAndGlyphs">グリゴール・ディミトロフ</text>
<text class="n g" x="553" y="708.6" textLength="98" lengthAdjust="spacingAndGlyphs">クリストファー・オコネル</text>
<text class="n g" x="553" y="721.9" textLength="52" lengthAdjust="spacingAndGlyphs">チョン・ヒョン</text>
<text class="n g" x="553" y="735.2" textLength="76" lengthAdjust="spacingAndGlyphs">レンツォ・オリーボ</text>
<text class="n g" x="553" y="748.5" textLength="71" lengthAdjust="spacingAndGlyphs">ラドゥ・アルボット</text>
<text class="n g" x="553" y="761.8" textLength="76" lengthAdjust="spacingAndGlyphs">カルロス・ベロック</text>
<text class="n g" x="553" y="775.1" textLength="63" lengthAdjust="spacingAndGlyphs">ブレイク・モット</text>
<text class="n w" x="553" y="788.4" textLength="76" lengthAdjust="spacingAndGlyphs">リシャール・ガスケ</text>
<text class="n w" x="553" y="801.7" textLength="99" lengthAdjust="spacingAndGlyphs">パブロ・カレーニョ ブスタ</text>
<text class="n g" x="553" y="815" textLength="95" lengthAdjust="spacingAndGlyphs">ピーター・ポランスキー</text>
<text class="n g" x="553" y="828.3" textLength="74" lengthAdjust="spacingAndGlyphs">カイル・エドマンド</text>
<text class="n g" x="553" y="841.6" textLength="91" lengthAdjust="spacingAndGlyphs">サンティアゴ・ヒラルド</text>
<text class="n w" x="553" y="854.9" textLength="74" lengthAdjust="spacingAndGlyphs">デニス・イスタミン</text>
<text class="n g" x="553" y="868.2" textLength="64" lengthAdjust="spacingAndGlyphs">イバン・ドディグ</text>
<text class="n g" x="553" y="881.5" textLength="99" lengthAdjust="spacingAndGlyphs">フェルナンド・ベルダスコ</text>
<text class="n w" x="553" y="894.8" textLength="79" lengthAdjust="spacingAndGlyphs">ノバク・ジョコビッチ</text>
</g>

<!-- left R1 scores -->
<g class="s">
<text class="s" x="191.5" y="56.9">3</text><text class="s" x="191.5" y="70.2">0</text>
<text class="s" x="191.5" y="83.5">3</text><text class="s" x="191.5" y="96.8">1</text>
<text class="s" x="191.5" y="110.1">3</text><text class="s" x="191.5" y="123.4">2</text>
<text class="s" x="191.5" y="136.7">1</text><text class="s" x="191.5" y="150">3</text>
<text class="s" x="191.5" y="163.3">3</text><text class="s" x="191.5" y="176.6">1</text>
<text class="s" x="191.5" y="189.9">0</text><text class="s" x="191.5" y="203.2">3</text>
<text class="s" x="191.5" y="216.5">3</text><text class="s" x="191.5" y="229.8">0</text>
<text class="s" x="191.5" y="243.1">3</text><text class="s" x="191.5" y="256.4">1</text>
<text class="s" x="191.5" y="283">Ret</text>
<text class="s" x="191.5" y="296.3">3</text><text class="s" x="191.5" y="309.6">0</text>
<text class="s" x="191.5" y="322.9">2</text><text class="s" x="191.5" y="336.2">3</text>
<text class="s" x="191.5" y="349.5">1</text><text class="s" x="191.5" y="362.8">3</text>
<text class="s" x="191.5" y="376.1">2</text><text class="s" x="191.5" y="389.4">3</text>
<text class="s" x="191.5" y="402.7">1</text><text class="s" x="191.5" y="416">3</text>
<text class="s" x="191.5" y="429.3">Ret</text>
<text class="s" x="191.5" y="455.9">2</text><text class="s" x="191.5" y="469.2">3</text>
<text class="s" x="191.5" y="482.5">3</text><text class="s" x="191.5" y="495.8">2</text>
<text class="s" x="191.5" y="509.1">0</text><text class="s" x="191.5" y="522.4">3</text>
<text class="s" x="191.5" y="535.7">1</text><text class="s" x="191.5" y="549">3</text>
<text class="s" x="191.5" y="562.3">2</text><text class="s" x="191.5" y="575.6">3</text>
<text class="s" x="191.5" y="588.9">0</text><text class="s" x="191.5" y="602.2">3</text>
<text class="s" x="191.5" y="615.5">3</text><text class="s" x="191.5" y="628.8">1</text>
<text class="s" x="191.5" y="642.1">1</text><text class="s" x="191.5" y="655.4">3</text>
<text class="s" x="191.5" y="668.7">0</text><text class="s" x="191.5" y="682">3</text>
<text class="s" x="191.5" y="695.3">3</text><text class="s" x="191.5" y="708.6">1</text>
<text class="s" x="191.5" y="721.9">3</text><text class="s" x="191.5" y="735.2">0</text>
<text class="s" x="191.5" y="748.5">3</text><text class="s" x="191.5" y="761.8">1</text>
<text class="s" x="191.5" y="775.1">0</text><text class="s" x="191.5" y="788.4">3</text>
<text class="s" x="191.5" y="801.7">3</text><text class="s" x="191.5" y="815">0</text>
<text class="s" x="191.5" y="828.3">3</text><text class="s" x="191.5" y="841.6">1</text>
<text class="s" x="191.5" y="854.9">0</text><text class="s" x="191.5" y="868.2">3</text>
<text class="s" x="191.5" y="881.5">2</text><text class="s" x="191.5" y="894.8">3</text>
</g>
<!-- left R2 scores -->
<g>
<text class="s" x="220" y="71.5">3</text><text class="s" x="220" y="84.5">0</text>
<text class="s" x="220" y="124.5">0</text><text class="s" x="220" y="137.5">3</text>
<text class="s" x="220" y="177.5">2</text><text class="s" x="220" y="190.5">3</text>
<text class="s" x="220" y="231">3</text><text class="s" x="220" y="244">0</text>
<text class="s" x="220" y="284">3</text><text class="s" x="220" y="297">0</text>
<text class="s" x="220" y="337.5">0</text><text class="s" x="220" y="350.5">3</text>
<text class="s" x="220" y="390.5">3</text><text class="s" x="220" y="403.5">1</text>
<text class="s" x="220" y="443.5">0</text><text class="s" x="220" y="456.5">3</text>
<text class="s" x="220" y="497">3</text><text class="s" x="220" y="510">0</text>
<text class="s" x="220" y="550">2</text><text class="s" x="220" y="563">3</text>
<text class="s" x="220" y="603.5">1</text><text class="s" x="220" y="616.5">3</text>
<text class="s" x="220" y="656.5">3</text><text class="s" x="220" y="669.5">2</text>
<text class="s" x="220" y="710">3</text><text class="s" x="220" y="723">0</text>
<text class="s" x="220" y="763">0</text><text class="s" x="220" y="776">3</text>
<text class="s" x="220" y="816">3</text><text class="s" x="220" y="829">1</text>
<text class="s" x="220" y="869.5">3</text><text class="s" x="220" y="882.5">1</text>
</g>

<!-- right R1 scores -->
<g text-anchor="end">
<text class="s" x="497" y="56.9">3</text><text class="s" x="497" y="70.2">0</text>
<text class="s" x="497" y="83.5">3</text><text class="s" x="497" y="96.8">1</text>
<text class="s" x="497" y="110.1">0</text><text class="s" x="497" y="123.4">3</text>
<text class="s" x="497" y="136.7">1</text><text class="s" x="497" y="150">3</text>
<text class="s" x="497" y="163.3">3</text><text class="s" x="497" y="176.6">2</text>
<text class="s" x="497" y="189.9">3</text><text class="s" x="497" y="203.2">1</text>
<text class="s" x="497" y="216.5">Ret</text>
<text class="s" x="497" y="243.1">0</text><text class="s" x="497" y="256.4">3</text>
<text class="s" x="497" y="269.7">3</text><text class="s" x="497" y="283">0</text>
<text class="s" x="497" y="296.3">3</text><text class="s" x="497" y="309.6">1</text>
<text class="s" x="497" y="322.9">1</text><text class="s" x="497" y="336.2">3</text>
<text class="s" x="497" y="349.5">0</text><text class="s" x="497" y="362.8">3</text>
<text class="s" x="497" y="376.1">3</text><text class="s" x="497" y="389.4">0</text>
<text class="s" x="497" y="402.7">2</text><text class="s" x="497" y="416">3</text>
<text class="s" x="497" y="429.3">3</text><text class="s" x="497" y="442.6">0</text>
<text class="s" x="497" y="455.9">0</text><text class="s" x="497" y="469.2">3</text>
<text class="s" x="497" y="482.5">3</text><text class="s" x="497" y="495.8">1</text>
<text class="s" x="497" y="509.1">3</text><text class="s" x="497" y="522.4">2</text>
<text class="s" x="497" y="535.7">Ret</text>
<text class="s" x="497" y="562.3">3</text><text class="s" x="497" y="575.6">0</text>
<text class="s" x="497" y="588.9">3</text><text class="s" x="497" y="602.2">2</text>
<text class="s" x="497" y="615.5">1</text><text class="s" x="497" y="628.8">3</text>
<text class="s" x="497" y="642.1">0</text><text class="s" x="497" y="655.4">3</text>
<text class="s" x="497" y="668.7">2</text><text class="s" x="497" y="682">3</text>
<text class="s" x="497" y="695.3">3</text><text class="s" x="497" y="708.6">0</text>
<text class="s" x="497" y="721.9">3</text><text class="s" x="497" y="735.2">0</text>
<text class="s" x="497" y="748.5">1</text><text class="s" x="497" y="761.8">3</text>
<text class="s" x="497" y="775.1">0</text><text class="s" x="497" y="788.4">3</text>
<text class="s" x="497" y="815">Ret</text>
<text class="s" x="497" y="828.3">3</text><text class="s" x="497" y="841.6">0</text>
<text class="s" x="497" y="854.9">3</text><text class="s" x="497" y="868.2">1</text>
<text class="s" x="497" y="881.5">0</text><text class="s" x="497" y="894.8">3</text>
</g>
<!-- right R2 scores -->
<g text-anchor="end">
<text class="s" x="468.5" y="70.7">3</text><text class="s" x="468.5" y="83.5">1</text>
<text class="s" x="468.5" y="123.4">0</text><text class="s" x="468.5" y="137.5">3</text>
<text class="s" x="468.5" y="283">3</text><text class="s" x="468.5" y="296.5">0</text>
<text class="s" x="468.5" y="336.2">1</text><text class="s" x="468.5" y="349.5">3</text>
<text class="s" x="468.5" y="389.4">3</text><text class="s" x="468.5" y="402.5">0</text>
<text class="s" x="468.5" y="442.6">0</text><text class="s" x="468.5" y="455.9">3</text>
<text class="s" x="468.5" y="655">0</text><text class="s" x="468.5" y="668.2">3</text>
<text class="s" x="468.5" y="708.3">3</text><text class="s" x="468.5" y="721.2">1</text>
<text class="s" x="468.5" y="761.5">0</text><text class="s" x="468.5" y="774.8">3</text>
<text class="s" x="468.5" y="813.5">3</text><text class="s" x="468.5" y="827">0</text>
</g>
</svg>
</body></html>
